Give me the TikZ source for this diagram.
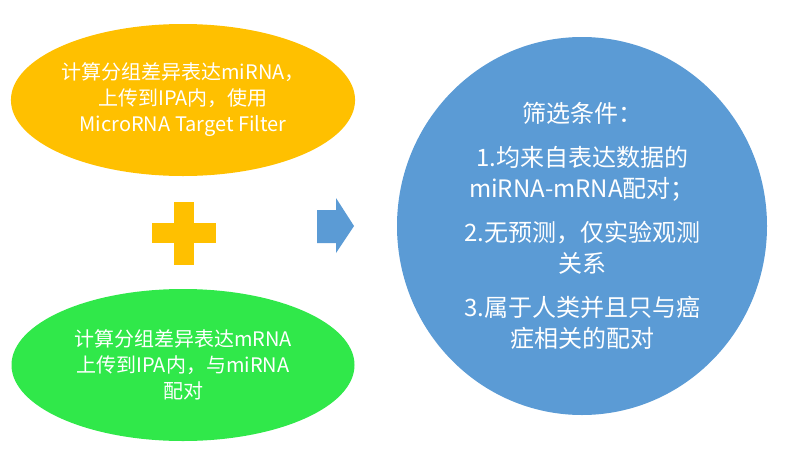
\documentclass[tikz,border=0pt]{standalone}
\usepackage{fontspec}
\usepackage{tikz}
\usetikzlibrary{shapes}
\newfontfamily\cjk{Noto Sans CJK SC}
\definecolor{orangefill}{HTML}{FFC000}
\definecolor{greenfill}{HTML}{30E84A}
\definecolor{bluefill}{HTML}{5B9BD5}
\tikzstyle{blob}=[ellipse,inner sep=0pt,text=white,align=center,font=\cjk\fontsize{20}{26}\selectfont]
\tikzstyle{plusbar}=[fill=orangefill,draw=none]
\tikzstyle{pointer}=[fill=bluefill,draw=none]

\begin{document}
\begin{tikzpicture}[x=1pt,y=-1pt]
        \useasboundingbox (0,0) rectangle (800,469);
        % input sets
        \node[blob,fill=orangefill,minimum width=343pt,minimum height=152pt] (mirna) at (183,100)
          {计算分组差异表达miRNA，\\上传到IPA内，使用\\MicroRNA Target Filter};
        \node[blob,fill=greenfill,minimum width=343pt,minimum height=152pt] (mrna) at (183,365)
          {计算分组差异表达mRNA\\上传到IPA内，与miRNA\\配对};
        % plus sign
        \fill[plusbar] (174,202) rectangle (194,265);
        \fill[plusbar] (152,223) rectangle (216,243);
        % arrow
        \fill[pointer] (317,210) -- (336,210) -- (336,198) -- (354,226)
          -- (336,253) -- (336,243) -- (317,243) -- cycle;
        % filter conditions
        \node[blob,fill=bluefill,minimum width=370pt,minimum height=378pt,
          font=\cjk\fontsize{24}{31}\selectfont] (filter) at (582,226)
          {筛选条件：\\[13pt]
           1.均来自表达数据的\\miRNA-mRNA配对；\\[13pt]
           2.无预测，仅实验观测\\关系\\[13pt]
           3.属于人类并且只与癌\\症相关的配对};
      \end{tikzpicture}
\end{document}
